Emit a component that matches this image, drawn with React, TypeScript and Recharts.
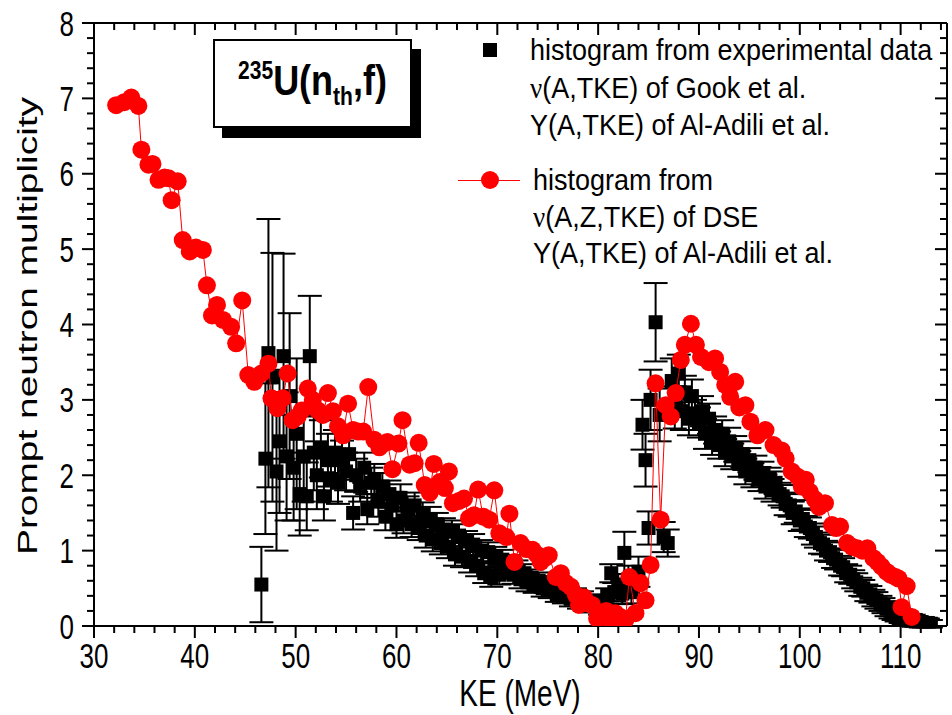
import { ScatterChart, Scatter, XAxis, YAxis, ErrorBar } from "recharts";

// histogram from experimental data (Gook / Al-Adili)
const expKe = [
  46.6, 47.0, 47.3, 47.7, 48.1, 48.4, 48.8, 49.1, 49.4, 49.8, 50.1, 50.4, 50.8, 51.1, 51.4, 51.8,
  52.1, 52.5, 52.8, 53.2, 53.5, 53.9, 54.2, 54.6, 55.0, 55.3, 55.7, 56.0, 56.4, 56.8, 57.1, 57.5,
  57.8, 58.2, 58.6, 58.9, 59.3, 59.6, 60.0, 60.4, 60.7, 61.1, 61.5, 61.8, 62.2, 62.6, 62.9, 63.3,
  63.6, 64.0, 64.4, 64.7, 65.1, 65.5, 65.8, 66.2, 66.5, 66.9, 67.3, 67.6, 68.0, 68.4, 68.7, 69.1,
  69.4, 69.8, 70.2, 70.5, 70.9, 71.2, 71.6, 71.9, 72.3, 72.7, 73.0, 73.4, 73.7, 74.1, 74.5, 74.8,
  75.2, 75.5, 75.9, 76.3, 76.6, 77.0, 77.3, 77.7, 78.1, 78.4, 78.8, 79.1, 79.5, 79.9, 80.2, 80.6,
  80.9, 81.3, 81.6, 82.0, 82.4, 82.6, 83.0, 83.3, 83.7, 84.0, 84.4, 84.7, 85.0, 85.2, 85.7, 86.1,
  86.5, 86.9, 87.3, 87.6, 88.0, 88.3, 88.6, 89.0, 89.3, 89.6, 90.0, 90.3, 90.6, 91.0, 91.3, 91.6,
  92.0, 92.3, 92.6, 93.0, 93.3, 93.6, 94.0, 94.3, 94.6, 95.0, 95.3, 95.6, 96.0, 96.3, 96.6, 97.0,
  97.3, 97.6, 98.0, 98.3, 98.6, 99.0, 99.3, 99.6, 100.0, 100.3, 100.6, 101.0, 101.3, 101.6, 102.0,
  102.3, 102.6, 103.0, 103.3, 103.6, 104.0, 104.3, 104.6, 105.0, 105.3, 105.6, 106.0, 106.3, 106.6,
  107.0, 107.3, 107.6, 108.0, 108.3, 108.6, 109.0, 109.3, 109.6, 110.0, 110.3, 110.6, 111.0, 111.3,
  111.6, 112.0, 112.3, 112.7, 113.0,
];
const expNu = [
  0.55, 2.22, 3.62, 3.3, 2.05, 2.45, 3.58, 2.25, 3.05, 2.1, 2.55, 1.75, 2.25, 1.72, 3.58, 2.3,
  2.0, 2.35, 1.72, 2.2, 1.95, 2.3, 1.9, 2.2, 2.05, 2.28, 1.5, 2.0, 1.85, 2.1, 1.55, 1.9,
  1.95, 1.65, 1.85, 1.45, 1.75, 1.6, 1.35, 1.7, 1.4, 1.55, 1.35, 1.6, 1.3, 1.48, 1.2, 1.42,
  1.15, 1.35, 1.1, 1.28, 1.05, 1.25, 0.95, 1.2, 0.92, 1.12, 0.85, 1.08, 0.8, 1.0, 0.7, 0.98,
  0.65, 0.92, 0.68, 0.88, 0.75, 0.82, 0.68, 0.75, 0.62, 0.7, 0.58, 0.64, 0.55, 0.6, 0.5, 0.55,
  0.48, 0.5, 0.42, 0.47, 0.4, 0.42, 0.36, 0.4, 0.33, 0.36, 0.3, 0.32, 0.28, 0.3, 0.25, 0.3,
  0.4, 0.7, 0.45, 0.55, 0.43, 0.97, 0.62, 0.45, 0.55, 0.72, 2.67, 2.2, 1.3, 3.0, 4.03, 2.8,
  1.18, 1.1, 3.25, 2.9, 3.35, 2.85, 3.1, 2.75, 3.05, 2.8, 2.7, 2.85, 2.55, 2.75, 2.45, 2.6,
  2.4, 2.55, 2.3, 2.45, 2.25, 2.35, 2.15, 2.28, 2.05, 2.2, 2.0, 2.1, 1.95, 2.02, 1.85, 1.95,
  1.8, 1.9, 1.75, 1.72, 1.62, 1.6, 1.5, 1.52, 1.4, 1.42, 1.32, 1.3, 1.22, 1.18, 1.1,
  1.08, 1.0, 0.98, 0.9, 0.88, 0.8, 0.78, 0.7, 0.68, 0.62, 0.58, 0.52, 0.5, 0.44,
  0.42, 0.37, 0.34, 0.3, 0.27, 0.23, 0.2, 0.18, 0.15, 0.13, 0.11, 0.1, 0.08, 0.07,
  0.06, 0.05, 0.04, 0.04, 0.03,
];
const expErr = [
  0.5, 1.0, 1.78, 1.65, 1.05, 0.95, 1.36, 0.85, 1.1, 0.7, 1.0, 0.55, 0.6, 0.45, 0.8, 0.5,
  0.45, 0.38, 0.32, 0.35, 0.3, 0.3, 0.28, 0.26, 0.25, 0.22, 0.22, 0.22, 0.2, 0.2, 0.2, 0.2,
  0.2, 0.2, 0.18, 0.18, 0.18, 0.18, 0.18, 0.18, 0.17, 0.17, 0.17, 0.17, 0.16, 0.16, 0.16, 0.16,
  0.16, 0.15, 0.15, 0.15, 0.15, 0.15, 0.15, 0.15, 0.14, 0.14, 0.14, 0.14, 0.14, 0.14, 0.13, 0.13,
  0.13, 0.13, 0.13, 0.13, 0.12, 0.12, 0.12, 0.12, 0.12, 0.12, 0.12, 0.11, 0.11, 0.11, 0.11, 0.11,
  0.11, 0.1, 0.1, 0.1, 0.1, 0.1, 0.1, 0.1, 0.1, 0.1, 0.1, 0.1, 0.1, 0.1, 0.1, 0.1,
  0.1, 0.12, 0.12, 0.14, 0.14, 0.28, 0.18, 0.15, 0.18, 0.2, 0.33, 0.35, 0.22, 0.4, 0.52, 0.35,
  0.2, 0.18, 0.3, 0.28, 0.25, 0.25, 0.22, 0.22, 0.22, 0.2, 0.2, 0.2, 0.2, 0.2, 0.18, 0.18,
  0.18, 0.18, 0.18, 0.18, 0.17, 0.17, 0.17, 0.17, 0.17, 0.16, 0.16, 0.16, 0.16, 0.16, 0.16, 0.15,
  0.15, 0.15, 0.15, 0.15, 0.15, 0.15, 0.15, 0.15, 0.14, 0.14, 0.14, 0.14, 0.14, 0.14, 0.14,
  0.13, 0.13, 0.13, 0.13, 0.13, 0.13, 0.12, 0.12, 0.12, 0.12, 0.12, 0.12, 0.11, 0.11,
  0.11, 0.11, 0.11, 0.1, 0.1, 0.1, 0.1, 0.1, 0.09, 0.09, 0.09, 0.08, 0.08, 0.08,
  0.07, 0.07, 0.06, 0.06, 0.05,
];

// histogram from nu(A,Z,TKE) of DSE
const dseKe = [
  32.2, 33.0, 33.7, 34.4, 34.7, 35.4, 35.8, 36.4, 37.0, 37.4, 37.7, 38.3, 38.8, 39.5, 40.1, 40.8,
  41.2, 41.7, 42.2, 42.8, 43.6, 44.1, 44.7, 45.3, 45.9, 46.6, 47.3, 47.6, 48.2, 48.7, 49.2, 49.7,
  50.2, 50.6, 51.2, 51.7, 52.2, 52.7, 53.2, 53.7, 54.2, 54.7, 55.2, 55.7, 56.2, 56.7, 57.2, 57.8,
  58.3, 58.7, 59.1, 59.6, 60.2, 60.6, 61.3, 61.8, 62.2, 62.8, 63.3, 63.7, 64.3, 64.8, 65.2, 65.6,
  66.2, 66.7, 67.2, 67.7, 68.1, 68.6, 69.2, 69.7, 70.2, 70.9, 71.2, 71.7, 72.3, 72.9, 73.5, 73.9,
  74.3, 74.7, 75.1, 75.8, 76.3, 76.8, 77.3, 77.8, 78.1, 78.6, 79.0, 79.4, 79.9, 80.3, 80.8, 81.3,
  81.7, 82.2, 82.7, 83.1, 83.7, 84.2, 84.7, 85.2, 85.7, 86.2, 86.7, 87.2, 87.7, 88.2, 88.6, 89.2,
  89.7, 90.2, 91.0, 91.6, 92.1, 92.6, 93.1, 93.6, 94.0, 94.6, 95.1, 95.8, 96.6, 97.4, 98.2, 98.6,
  99.2, 99.8, 100.2, 100.6, 101.0, 101.5, 101.9, 102.5, 103.2, 103.6, 104.0, 104.7, 105.2, 105.7,
  106.2, 106.7, 107.3, 107.7, 108.1, 108.6, 109.0, 109.5, 109.8, 110.1, 110.6, 111.1,
];
const dseNu = [
  6.91, 6.95, 7.01, 6.9, 6.32, 6.12, 6.13, 5.92, 5.95, 5.94, 5.65, 5.9, 5.12, 4.97, 5.02, 4.99,
  4.52, 4.12, 4.26, 4.06, 3.97, 3.75, 4.32, 3.33, 3.24, 3.35, 3.48, 3.02, 2.89, 3.02, 3.35, 2.73,
  2.78, 2.86, 3.15, 3.0, 2.86, 2.8, 3.09, 2.85, 2.65, 2.53, 2.95, 2.6, 2.58, 2.58, 3.17, 2.47,
  2.37, 2.42, 2.44, 2.08, 2.42, 2.73, 2.14, 2.16, 2.43, 1.87, 1.77, 2.15, 1.91, 1.83, 2.05, 1.63,
  1.66, 1.69, 1.43, 1.47, 1.81, 1.45, 1.41, 1.8, 1.23, 1.18, 1.49, 0.85, 1.1, 1.02, 1.01, 0.95,
  0.85, 0.9, 0.94, 0.65, 0.7, 0.57, 0.52, 0.41, 0.28, 0.38, 0.3, 0.28, 0.1, 0.14, 0.2, 0.06,
  0.17, 0.12, 0.08, 0.65, 0.17, 0.57, 0.34, 0.81, 3.22, 1.41, 2.93, 2.78, 3.09, 3.53, 3.73, 4.01,
  3.73, 3.57, 3.5, 3.55, 3.37, 3.2, 3.04, 3.24, 2.9, 2.93, 2.71, 2.53, 2.6, 2.4, 2.33, 2.22,
  2.05, 1.98, 1.85, 1.94, 1.78, 1.68, 1.58, 1.63, 1.34, 1.3, 1.32, 1.1, 1.05, 1.03,
  1.0, 1.03, 0.9, 0.85, 0.79, 0.72, 0.68, 0.65, 0.63, 0.25, 0.53, 0.12,
];

const xMajor = [30, 40, 50, 60, 70, 80, 90, 100, 110];
const yMajor = [0, 1, 2, 3, 4, 5, 6, 7, 8];

const expData = expKe.map((ke, i) => ({ ke, nu: expNu[i], err: expErr[i] }));
const dseData = dseKe.map((ke, i) => ({ ke, nu: dseNu[i] }));

const xTicks: number[] = [];
for (let v = 30; v <= 114; v += 2) xTicks.push(v);
const yTicks: number[] = [];
for (let i = 0; i <= 40; i++) yTicks.push(i / 5);

const FONT = "'Liberation Sans', Arial, sans-serif";
const FS = 26;
const STRETCH = 1.35; // the figure's lettering is drawn tall

const isMajorX = (v: number) => xMajor.includes(v);
const isMajorY = (v: number) => yMajor.some((m) => Math.abs(m - v) < 1e-6);

function BottomTick({ x, y, payload }: any) {
  const major = isMajorX(payload.value);
  return (
    <g>
      <line x1={x} x2={x} y1={y} y2={y + (major ? 12 : 7)} stroke="#000" strokeWidth={2} />
      {major && (
        <text
          transform={`translate(${x},${y + 42}) scale(1,${STRETCH})`}
          textAnchor="middle"
          fontSize={FS}
          fontFamily={FONT}
          fill="#000"
        >
          {payload.value}
        </text>
      )}
    </g>
  );
}

function TopTick({ x, y, payload }: any) {
  const major = isMajorX(payload.value);
  return <line x1={x} x2={x} y1={y} y2={y + (major ? 12 : 7)} stroke="#000" strokeWidth={2} />;
}

function LeftTick({ x, y, payload }: any) {
  const major = isMajorY(payload.value);
  return (
    <g>
      <line x1={x - (major ? 12 : 7)} x2={x} y1={y} y2={y} stroke="#000" strokeWidth={2} />
      {major && (
        <text
          transform={`translate(${x - 20},${y + 12.5}) scale(1,${STRETCH})`}
          textAnchor="end"
          fontSize={FS}
          fontFamily={FONT}
          fill="#000"
        >
          {Math.round(payload.value)}
        </text>
      )}
    </g>
  );
}

function RightTick({ x, y, payload }: any) {
  const major = isMajorY(payload.value);
  return <line x1={x - (major ? 12 : 7)} x2={x} y1={y} y2={y} stroke="#000" strokeWidth={2} />;
}

const Square = (p: any) => <rect x={p.cx - 7} y={p.cy - 7} width={14} height={14} fill="#000" />;
const RedDot = (p: any) => <circle cx={p.cx} cy={p.cy} r={9} fill="#ff0000" />;

const nu = <span style={{ fontFamily: "'Liberation Serif', 'DejaVu Serif', serif" }}>ν</span>;

const textLine = (top: number, left: number, content: any) => (
  <div
    style={{
      position: "absolute",
      left,
      top,
      fontSize: 27,
      lineHeight: "30px",
      whiteSpace: "nowrap",
      transform: "scale(1,1.12)",
      transformOrigin: "left center",
    }}
  >
    {content}
  </div>
);

export default function App() {
  const axisLine = { stroke: "#000", strokeWidth: 2 };
  return (
    <div style={{ position: "relative", width: 952, height: 715, fontFamily: FONT, color: "#000", background: "#fff" }}>
      <style>{`body{margin:0}`}</style>
      <ScatterChart width={952} height={715} margin={{ top: 0, right: 0, bottom: 0, left: 0 }}>
        <XAxis
          xAxisId="b"
          type="number"
          dataKey="ke"
          domain={[30, 114.6]}
          allowDataOverflow
          ticks={xTicks}
          interval={0}
          height={89}
          tickLine={false}
          tickSize={0}
          tickMargin={0}
          axisLine={axisLine}
          tick={<BottomTick />}
        />
        <XAxis
          xAxisId="t"
          orientation="top"
          type="number"
          dataKey="ke"
          domain={[30, 114.6]}
          allowDataOverflow
          ticks={xTicks}
          interval={0}
          height={23}
          tickLine={false}
          tickSize={0}
          tickMargin={0}
          axisLine={axisLine}
          tick={<TopTick />}
        />
        <YAxis
          yAxisId="l"
          type="number"
          dataKey="nu"
          domain={[0, 8]}
          allowDataOverflow
          ticks={yTicks}
          interval={0}
          width={94}
          tickLine={false}
          tickSize={0}
          tickMargin={0}
          axisLine={axisLine}
          tick={<LeftTick />}
        />
        <YAxis
          yAxisId="r"
          orientation="right"
          type="number"
          dataKey="nu"
          domain={[0, 8]}
          allowDataOverflow
          ticks={yTicks}
          interval={0}
          width={5}
          tickLine={false}
          tickSize={0}
          tickMargin={0}
          axisLine={axisLine}
          tick={<RightTick />}
        />
        <Scatter data={expData} dataKey="nu" xAxisId="b" yAxisId="l" shape={Square} isAnimationActive={false}>
          <ErrorBar dataKey="err" direction="y" width={12} stroke="#000" strokeWidth={2} isAnimationActive={false} />
        </Scatter>
        <Scatter
          data={dseData}
          dataKey="nu"
          xAxisId="b"
          yAxisId="l"
          shape={RedDot}
          line={{ stroke: "#ff0000", strokeWidth: 1 }}
          isAnimationActive={false}
        />
      </ScatterChart>

      {/* reaction label box */}
      <div
        style={{
          position: "absolute",
          left: 213,
          top: 39,
          width: 195,
          height: 85,
          border: "2px solid #000",
          background: "#fff",
          boxShadow: "9px 10px 0 #000",
          display: "flex",
          alignItems: "center",
          justifyContent: "center",
          fontWeight: "bold",
          fontSize: 36,
        }}
      >
        <span style={{ display: "inline-block", transform: "scale(1,1.2)" }}>
          <sup style={{ fontSize: 21 }}>235</sup>U(n<sub style={{ fontSize: 21 }}>th</sub>,f)
        </span>
      </div>

      {/* legend */}
      <div style={{ position: "absolute", left: 483, top: 43, width: 14, height: 14, background: "#000" }} />
      {textLine(35, 530, "histogram from experimental data")}
      {textLine(73, 530, <>{nu}(A,TKE) of Gook et al.</>)}
      {textLine(110, 530, "Y(A,TKE) of Al-Adili et al.")}
      <div style={{ position: "absolute", left: 458, top: 180, width: 62, height: 1, background: "#ff0000" }} />
      <div style={{ position: "absolute", left: 481, top: 171, width: 18, height: 18, borderRadius: 9, background: "#ff0000" }} />
      {textLine(165, 533, "histogram from")}
      {textLine(202, 533, <>{nu}(A,Z,TKE) of DSE</>)}
      {textLine(238, 533, "Y(A,TKE) of Al-Adili et al.")}

      {/* axis titles */}
      <div
        style={{
          position: "absolute",
          left: 520,
          top: 694,
          transform: `translate(-50%,-50%) scale(1,${STRETCH})`,
          fontSize: 28,
          lineHeight: "26px",
          whiteSpace: "nowrap",
        }}
      >
        KE (MeV)
      </div>
      <div
        style={{
          position: "absolute",
          left: 28,
          top: 326,
          transform: "translate(-50%,-50%) rotate(-90deg) scale(1.44,1)",
          fontSize: 27,
          whiteSpace: "nowrap",
        }}
      >
        Prompt neutron multiplicity
      </div>
    </div>
  );
}
